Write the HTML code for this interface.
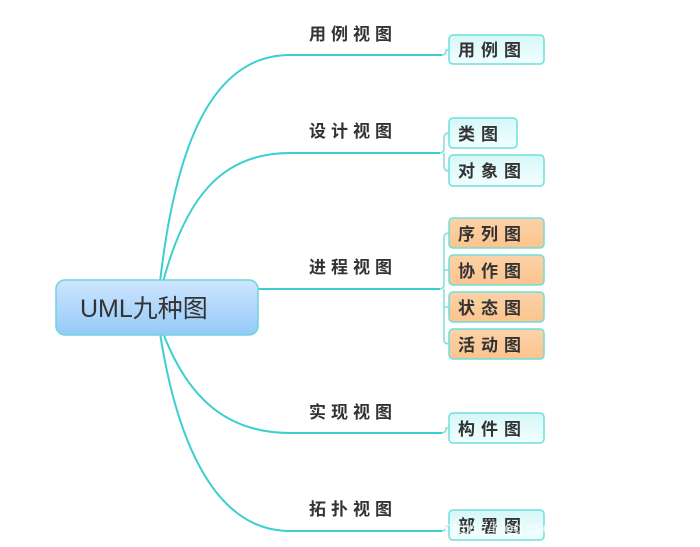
<!DOCTYPE html>
<html><head><meta charset="utf-8"><style>
html,body{margin:0;padding:0;background:#fff;}
svg{display:block;}
text{font-family:"Liberation Sans","Noto Sans CJK SC",sans-serif;font-weight:bold;fill:#333;}
</style></head><body>
<svg width="700" height="547" viewBox="0 0 700 547" xmlns="http://www.w3.org/2000/svg">
<defs>
<linearGradient id="rg" x1="0" y1="0" x2="0" y2="1"><stop offset="0" stop-color="#cfe6ff"/><stop offset="1" stop-color="#94c9f7"/></linearGradient>
<linearGradient id="cg" x1="0" y1="0" x2="0" y2="1"><stop offset="0" stop-color="#d6f7f7"/><stop offset="1" stop-color="#f2ffff"/></linearGradient>
<linearGradient id="og" x1="0" y1="0" x2="0" y2="1"><stop offset="0" stop-color="#fbd2a8"/><stop offset="1" stop-color="#fbc48e"/></linearGradient>
</defs>
<g fill="none" stroke="#3ccfcf" stroke-width="2">
<path d="M160,282 C175,150 210,55 290,55 L442,55"/>
<path d="M163,282 C185,200 220,153 290,153 L440,153"/>
<path d="M258,289 L440,289"/>
<path d="M163,333 C185,390 220,433 290,433 L442,433"/>
<path d="M160,333 C175,430 210,531 290,531 L442,531"/>
</g>
<g fill="none" stroke="#7fdede" stroke-width="1.5">
<path d="M442,55 Q446,55 446,50 L449,50"/>
<path d="M440,153 Q444,153 444,148 L444,138 Q444,133 449,133 M444,153 L444,166 Q444,171 449,171"/>
<path d="M440,289 Q444,289 444,284 L444,238 Q444,233 449,233 M444,270 L449,270 M444,289 L444,339 Q444,344 449,344 M444,307 L449,307"/>
<path d="M442,433 Q446,433 446,428 L449,428"/>
<path d="M442,531 Q446,531 446,526 L449,526"/>
</g>
<rect x="56" y="280" width="202" height="55" rx="9" fill="url(#rg)" stroke="#6fd3dc" stroke-width="1.5"/>
<text x="80" y="317" font-size="25" font-weight="normal" style="font-weight:normal">UML九种图</text>
<g font-size="17" letter-spacing="5">
<text x="309" y="40">用例视图</text>
<text x="309" y="137">设计视图</text>
<text x="309" y="273">进程视图</text>
<text x="309" y="418">实现视图</text>
<text x="309" y="515">拓扑视图</text>
</g>
<g stroke="#6fdede" stroke-width="1.5">
<rect x="449" y="35" width="95" height="29" rx="4" fill="url(#cg)"/>
<rect x="449" y="118" width="68" height="30" rx="4" fill="url(#cg)"/>
<rect x="449" y="155" width="95" height="31" rx="4" fill="url(#cg)"/>
<rect x="449" y="218" width="95" height="30" rx="4" fill="url(#og)"/>
<rect x="449" y="255" width="95" height="30" rx="4" fill="url(#og)"/>
<rect x="449" y="292" width="95" height="30" rx="4" fill="url(#og)"/>
<rect x="449" y="329" width="95" height="30" rx="4" fill="url(#og)"/>
<rect x="449" y="413" width="95" height="30" rx="4" fill="url(#cg)"/>
<rect x="449" y="510" width="95" height="30" rx="4" fill="url(#cg)"/>
</g>
<g font-size="17" letter-spacing="6">
<text x="458" y="56">用例图</text>
<text x="458" y="140">类图</text>
<text x="458" y="177">对象图</text>
<text x="458" y="240">序列图</text>
<text x="458" y="277">协作图</text>
<text x="458" y="314">状态图</text>
<text x="458" y="351">活动图</text>
<text x="458" y="435">构件图</text>
<text x="458" y="532">部署图</text>
</g>
<text x="444" y="533" font-size="16" style="font-weight:normal;fill:#fff;opacity:0.75">https://blog.csdn.net/qq_41204464</text>
</svg>
</body></html>
